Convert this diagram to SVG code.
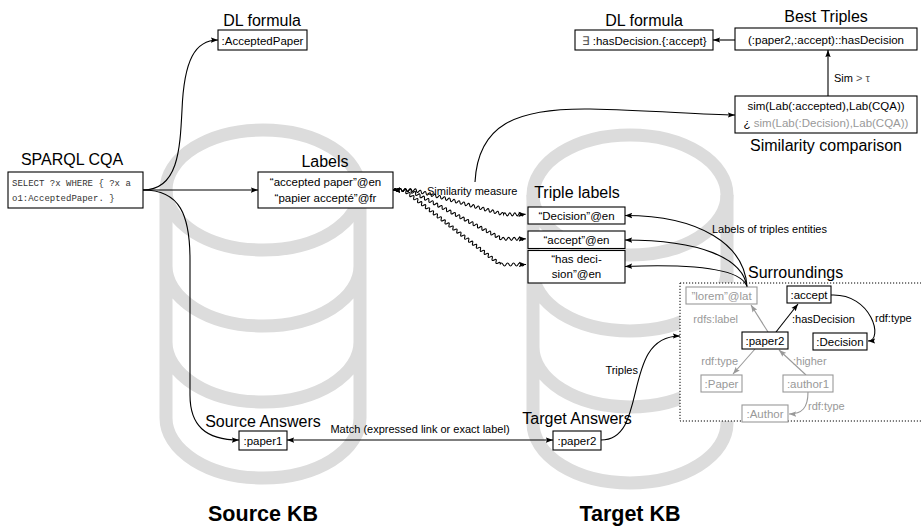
<svg xmlns="http://www.w3.org/2000/svg" width="921" height="528" viewBox="0 0 921 528">
<defs>
<style>
text{font-family:"Liberation Sans",Arial,sans-serif;font-size:11.5px;fill:#000}
.title{font-size:16px}
.lbl{font-size:11px}
.mono{font-family:"Liberation Mono","Courier New",monospace;font-size:9px;fill:#333}
.g{fill:#999}
.mid{text-anchor:middle}
.end{text-anchor:end}
.box{fill:#fff;stroke:#000;stroke-width:1.1}
.gbox{fill:#fff;stroke:#999;stroke-width:1.1}
.edge{fill:none;stroke:#000;stroke-width:1.1}
.gedge{fill:none;stroke:#999;stroke-width:1.1}
.kb{fill:none;stroke:#dcdcdc;stroke-width:13}
.kbname{font-size:21.5px;font-weight:bold}
</style>
<marker id="ah" viewBox="0 0 8 6" markerWidth="8" markerHeight="6" refX="7.2" refY="3" orient="auto-start-reverse" markerUnits="userSpaceOnUse">
<path d="M0,0.3 L7.2,3 L0,5.7 L1.3,3 Z" fill="#000"/>
</marker>
<marker id="ahg" viewBox="0 0 8 6" markerWidth="8" markerHeight="6" refX="7.2" refY="3" orient="auto-start-reverse" markerUnits="userSpaceOnUse">
<path d="M0,0.3 L7.2,3 L0,5.7 L1.3,3 Z" fill="#999"/>
</marker>
</defs>

<!-- knowledge base drums -->
<g id="kb-source">
<ellipse class="kb" cx="263" cy="190" rx="97" ry="60"/>
<path class="kb" d="M166,190 V418 M360,190 V418 M166,266 A97,60 0 0 0 360,266 M166,342 A97,60 0 0 0 360,342 M166,418 A97,60 0 0 0 360,418"/>
<text class="kbname mid" x="263" y="521">Source KB</text>
</g>
<g id="kb-target">
<ellipse class="kb" cx="630" cy="195" rx="97" ry="60"/>
<path class="kb" d="M533,195 V423 M727,195 V423 M533,271 A97,60 0 0 0 727,271 M533,347 A97,60 0 0 0 727,347 M533,423 A97,60 0 0 0 727,423"/>
<text class="kbname mid" x="630" y="521">Target KB</text>
</g>

<!-- surroundings frame -->
<g id="surroundings">
<rect x="680" y="283" width="245" height="138" fill="#fff" stroke="#000" stroke-width="1" stroke-dasharray="1.2,1.8"/>
<text class="title" x="748" y="278">Surroundings</text>
</g>

<g id="connectors">
<path class="edge" marker-end="url(#ah)" d="M143,190 C178,190 180,150 182,110 C184,60 195,40 218,40"/>
<path class="edge" marker-end="url(#ah)" d="M143,190 L258,190"/>
<path class="edge" marker-end="url(#ah)" d="M143,190 C180,190 190,215 190,260 L190,395 C190,425 205,440 239,440"/>
<path class="edge" marker-start="url(#ah)" marker-end="url(#ah)" d="M287,440 L553,440"/>
<text class="lbl mid" x="420" y="433">Match (expressed link or exact label)</text>
<path class="edge" marker-end="url(#ah)" d="M601,440 C650,440 620,336 680,336"/>
<text class="lbl end" x="638" y="374">Triples</text>
<!-- wavy similarity links -->
<path class="edge" stroke-width="1" marker-start="url(#ah)" marker-end="url(#ah)" d="M393,190 h1 q1.25,-3 2.5,0 t2.5,0 2.5,0 2.5,0 2.5,0 2.5,0 2.5,0 2.5,0 q2,-2.57 2.421,0.658 t2.421,0.658 2.421,0.658 2.421,0.658 2.421,0.658 2.421,0.658 2.421,0.658 2.421,0.658 2.421,0.658 2.421,0.658 2.421,0.658 2.421,0.658 2.421,0.658 2.421,0.658 2.421,0.658 2.421,0.658 2.421,0.658 2.421,0.658 2.421,0.658 2.421,0.658 2.421,0.658 2.421,0.658 2.421,0.658 2.421,0.658 2.421,0.658 2.421,0.658 2.421,0.658 2.421,0.658 2.421,0.658 2.421,0.658 2.421,0.658 2.421,0.658 2.421,0.658 2.421,0.658 2.421,0.658 2.421,0.658 2.421,0.658 q1.25,-3 2.5,0 t2.5,0 2.5,0 2.5,0 2.5,0 2.5,0 2.5,0 2.5,0 l2,0"/>
<path class="edge" stroke-width="1" marker-start="url(#ah)" marker-end="url(#ah)" d="M393,190 h1 q1.25,-3 2.5,0 t2.5,0 2.5,0 2.5,0 2.5,0 2.5,0 q2.502,-2.074 2.209,1.163 t2.209,1.163 2.209,1.163 2.209,1.163 2.209,1.163 2.209,1.163 2.209,1.163 2.209,1.163 2.209,1.163 2.209,1.163 2.209,1.163 2.209,1.163 2.209,1.163 2.209,1.163 2.209,1.163 2.209,1.163 2.209,1.163 2.209,1.163 2.209,1.163 2.209,1.163 2.209,1.163 2.209,1.163 2.209,1.163 2.209,1.163 2.209,1.163 2.209,1.163 2.209,1.163 2.209,1.163 2.209,1.163 2.209,1.163 2.209,1.163 2.209,1.163 2.209,1.163 2.209,1.163 2.209,1.163 2.209,1.163 2.209,1.163 2.209,1.163 2.209,1.163 2.209,1.163 2.209,1.163 2.209,1.163 q1.375,-3 2.75,0 t2.75,0 2.75,0 2.75,0 2.75,0 2.75,0 2.75,0 2.75,0 l2,0"/>
<path class="edge" stroke-width="1" marker-start="url(#ah)" marker-end="url(#ah)" d="M393,190 h1 q1.25,-3 2.5,0 t2.5,0 2.5,0 2.5,0 q2.819,-1.61 1.96,1.52 t1.96,1.52 1.96,1.52 1.96,1.52 1.96,1.52 1.96,1.52 1.96,1.52 1.96,1.52 1.96,1.52 1.96,1.52 1.96,1.52 1.96,1.52 1.96,1.52 1.96,1.52 1.96,1.52 1.96,1.52 1.96,1.52 1.96,1.52 1.96,1.52 1.96,1.52 1.96,1.52 1.96,1.52 1.96,1.52 1.96,1.52 1.96,1.52 1.96,1.52 1.96,1.52 1.96,1.52 1.96,1.52 1.96,1.52 1.96,1.52 1.96,1.52 1.96,1.52 1.96,1.52 1.96,1.52 1.96,1.52 1.96,1.52 1.96,1.52 1.96,1.52 1.96,1.52 1.96,1.52 1.96,1.52 1.96,1.52 1.96,1.52 1.96,1.52 1.96,1.52 1.96,1.52 1.96,1.52 1.96,1.52 q1.5,-3 3,0 t3,0 3,0 3,0 3,0 3,0 3,0 3,0 l2,0"/>
<text class="lbl" x="427" y="195">Similarity measure</text>
<path class="edge" marker-end="url(#ah)" d="M475,182 C478,125 515,108 590,109 C650,110 700,115 735,115"/>
<!-- label retrieval from the surroundings -->
<path class="edge" marker-end="url(#ah)" d="M747,287 C745,245 700,215.5 625,215.5"/>
<path class="edge" marker-end="url(#ah)" d="M747,287 C743,258 700,240 625,240"/>
<path class="edge" marker-end="url(#ah)" d="M747,287 C742,268 690,264 625,266.5"/>
<text class="lbl" x="712" y="233">Labels of triples entities</text>
<path class="edge" marker-end="url(#ah)" d="M828,96 L828,50" stroke="#444"/>
<text class="lbl" x="834" y="82">Sim <tspan fill="#555">&gt; τ</tspan></text>
<path class="edge" marker-end="url(#ah)" d="M735,40 L713,40"/>
<!-- surroundings graph edges -->
<path class="gedge" marker-end="url(#ahg)" d="M768,332 L751,305"/>
<path class="edge" marker-end="url(#ah)" d="M776,332 L798,304"/>
<path class="gedge" marker-end="url(#ahg)" d="M755,349 L733,374"/>
<path class="gedge" marker-end="url(#ahg)" d="M806,375 L779,350"/>
<path class="edge" marker-end="url(#ah)" d="M831,295 C872,293 884,341 868,341"/>
<path class="gedge" marker-end="url(#ahg)" d="M808,392 C808,408 802,414 789,414"/>
<text class="lbl g end" x="738" y="323">rdfs:label</text>
<text class="lbl" x="792" y="323">:hasDecision</text>
<text class="lbl" x="875" y="322">rdf:type</text>
<text class="lbl g end" x="738" y="365">rdf:type</text>
<text class="lbl g" x="793" y="365">:higher</text>
<text class="lbl g" x="808" y="410">rdf:type</text>
</g>

<g id="sparql-cqa">
<text class="title mid" x="72" y="165">SPARQL CQA</text>
<rect class="box" x="8" y="172" width="135" height="36"/>
<text class="mono" x="12" y="186">SELECT ?x WHERE { ?x a</text>
<text class="mono" x="12" y="201">o1:AcceptedPaper. }</text>
</g>

<g id="dl-formula-source">
<text class="title mid" x="262" y="26">DL formula</text>
<rect class="box" x="218" y="30" width="89" height="20"/>
<text class="mid" x="262.5" y="44.5">:AcceptedPaper</text>
</g>

<g id="labels">
<text class="title mid" x="325" y="167">Labels</text>
<rect class="box" x="258" y="172" width="135" height="36"/>
<text class="mid" x="325.5" y="186">“accepted paper”@en</text>
<text class="mid" x="325.5" y="202">“papier accepté”@fr</text>
</g>

<g id="source-answers">
<text class="title mid" x="263" y="427">Source Answers</text>
<rect class="box" x="239" y="431" width="48" height="19"/>
<text class="mid" x="263" y="445">:paper1</text>
</g>

<g id="target-answers">
<text class="title mid" x="577" y="424">Target Answers</text>
<rect class="box" x="553" y="431" width="48" height="19"/>
<text class="mid" x="577" y="445">:paper2</text>
</g>

<g id="triple-labels">
<text class="title mid" x="577" y="198">Triple labels</text>
<rect class="box" x="528" y="207" width="97" height="17"/>
<text class="mid" x="576.5" y="219.5">“Decision”@en</text>
<rect class="box" x="528" y="231" width="97" height="17.5"/>
<text class="mid" x="576.5" y="244">“accept”@en</text>
<rect class="box" x="528" y="250.5" width="97" height="32.5"/>
<text class="mid" x="576.5" y="263">“has deci-</text>
<text class="mid" x="576.5" y="278">sion”@en</text>
</g>

<g id="dl-formula-target">
<text class="title mid" x="644" y="26">DL formula</text>
<rect class="box" x="575" y="30" width="138" height="20"/>
<text class="mid" x="644" y="44.5"><tspan fill="#555">∃</tspan> :hasDecision.{:accept}</text>
</g>

<g id="best-triples">
<text class="title mid" x="826" y="22">Best Triples</text>
<rect class="box" x="735" y="28" width="182" height="22"/>
<text class="mid" x="826" y="43.5">(:paper2,:accept)::hasDecision</text>
</g>

<g id="similarity-comparison">
<rect class="box" x="735" y="96" width="182" height="37"/>
<text class="mid" x="826" y="110">sim(Lab(:accepted),Lab(CQA))</text>
<text class="mid" x="826" y="127">¿ <tspan fill="#999">sim(Lab(:Decision),Lab(CQA))</tspan></text>
<text class="title mid" x="826" y="151">Similarity comparison</text>
</g>

<g id="lorem">
<rect class="gbox" x="686" y="287" width="71" height="17"/>
<text class="g mid" x="721.5" y="300">”lorem”@lat</text>
</g>
<g id="accept">
<rect class="box" x="787" y="286" width="44" height="17"/>
<text class="mid" x="809" y="299">:accept</text>
</g>
<g id="paper2">
<rect class="box" x="742" y="332" width="46" height="17"/>
<text class="mid" x="765" y="345">:paper2</text>
</g>
<g id="decision">
<rect class="box" x="813" y="333" width="54" height="17"/>
<text class="mid" x="840" y="346">:Decision</text>
</g>
<g id="paper-class">
<rect class="gbox" x="701" y="375" width="41" height="17"/>
<text class="g mid" x="721.5" y="388">:Paper</text>
</g>
<g id="author1">
<rect class="gbox" x="783" y="375" width="50" height="17"/>
<text class="g mid" x="808" y="388">:author1</text>
</g>
<g id="author-class">
<rect class="gbox" x="742" y="405" width="46" height="17"/>
<text class="g mid" x="765" y="418">:Author</text>
</g>
</svg>
